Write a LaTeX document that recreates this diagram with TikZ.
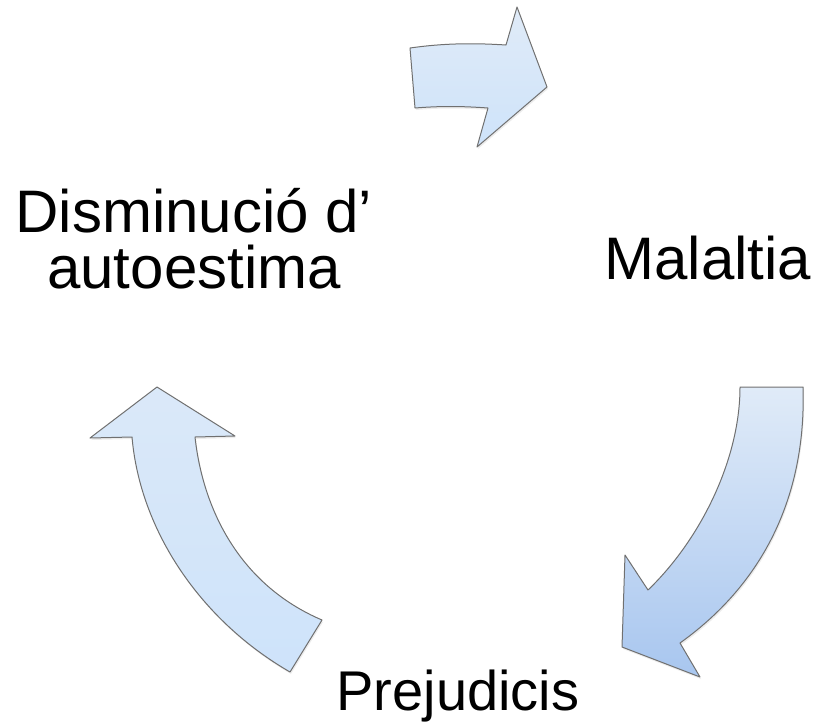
\documentclass[tikz,border=0pt]{standalone}
\usepackage{fontspec}
\setmainfont{Liberation Sans}
\usetikzlibrary{shadows}
\definecolor{ArrowLine}{RGB}{112,112,112}
\definecolor{ArrowPale}{RGB}{224,235,248}
\definecolor{ArrowMid}{RGB}{206,227,250}
\definecolor{ArrowDeep}{RGB}{168,198,239}

\begin{document}
\begin{tikzpicture}[x=1pt, y=-1pt,
    cycletext/.style={font=\fontsize{60}{56}\selectfont, inner sep=0pt, align=center},
    cyclearrow/.style={draw=ArrowLine, line width=1pt, line join=round,
        drop shadow={opacity=0.15, shadow xshift=1pt, shadow yshift=-2pt}}]
\useasboundingbox (0,0) rectangle (840,724);

% the three curved block arrows
\draw[cyclearrow, top color=ArrowPale, bottom color=ArrowMid]
    (410,48) .. controls (445,43) and (475,43) .. (506,45) -- (517,7) -- (547,87)
    -- (477,147) -- (488,108) .. controls (460,106) and (440,106) .. (415,108) -- cycle;
\draw[cyclearrow, top color=ArrowPale, bottom color=ArrowDeep]
    (740,387) -- (803,387) .. controls (806,480) and (775,575) .. (680,643)
    -- (700,677) -- (622,647) -- (625,555) -- (648,590)
    .. controls (700,540) and (740,460) .. (740,387) -- cycle;
\draw[cyclearrow, top color=ArrowPale!70!ArrowMid, bottom color=ArrowMid]
    (157,387) -- (235,436) -- (195,437) .. controls (203,510) and (240,585) .. (322,620)
    -- (290,672) .. controls (200,620) and (140,530) .. (132,437) -- (90,438) -- cycle;

% labels (base = last line)
\node[cycletext, anchor=base] (autoestima) at (194,288) {Disminució d’\\autoestima};
\node[cycletext, anchor=base] (malaltia) at (708,279) {Malaltia};
\node[cycletext, anchor=base, font=\fontsize{56}{56}\selectfont] (prejudicis) at (458,710) {Prejudicis};
\end{tikzpicture}
\end{document}
